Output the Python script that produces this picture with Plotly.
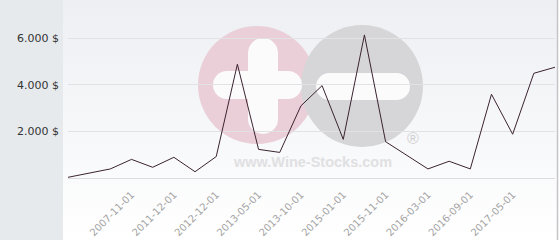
import base64
import plotly.graph_objects as go

# ---- data ----
dates = ["2004-05-01", "2005-06-01", "2006-10-01", "2007-11-01", "2009-04-01",
         "2011-12-01", "2012-06-01", "2012-12-01", "2013-02-01", "2013-05-01",
         "2013-07-01", "2013-10-01", "2014-06-01", "2015-01-01", "2015-06-01",
         "2015-11-01", "2016-01-01", "2016-03-01", "2016-06-01", "2016-09-01",
         "2017-01-01", "2017-05-01", "2017-10-01", "2018-03-01"]
prices = [30, 200, 390, 800, 460, 890, 270, 920, 4890, 1230,
          1100, 3100, 3970, 1660, 6150, 1560, 990, 390, 720, 390,
          3600, 1880, 4500, 4760]
shown_dates = ["2007-11-01", "2011-12-01", "2012-12-01", "2013-05-01", "2013-10-01",
               "2015-01-01", "2015-11-01", "2016-03-01", "2016-09-01", "2017-05-01"]
y_ticks = [2000, 4000, 6000]
y_labels = ["2.000 $", "4.000 $", "6.000 $"]

# ---- geometry helpers (pixel -> paper) ----
W, H = 560, 240
L, R, T, B = 68, 5, 0, 62
PW, PH = W - L - R, H - T - B


def px(x):
    return (x - L) / PW


def py(y):
    return 1 - (y - T) / PH


svg = ('<svg xmlns="http://www.w3.org/2000/svg" width="100" height="100" preserveAspectRatio="none">'
       '<defs><linearGradient id="g" x1="0" y1="0" x2="0" y2="1">'
       '<stop offset="0" stop-color="#edeff3"/><stop offset="1" stop-color="#ffffff"/>'
       '</linearGradient></defs><rect width="100" height="100" fill="url(#g)"/></svg>')
src = "data:image/svg+xml;base64," + base64.b64encode(svg.encode()).decode()

fig = go.Figure()
fig.add_trace(go.Scatter(x=dates, y=prices, mode="lines",
                         line=dict(color="#3b2330", width=1), hoverinfo="skip"))

shapes = []
# left panel
shapes.append(dict(type="rect", xref="paper", yref="paper", x0=px(0), x1=px(63),
                   y0=py(240), y1=py(0), fillcolor="#e6eaed", line_width=0, layer="below"))
# right border
shapes.append(dict(type="line", xref="paper", yref="paper", x0=px(557.5), x1=px(557.5),
                   y0=py(240), y1=py(0), line=dict(color="#c4c4c8", width=1.5), layer="below"))


def circle(cx, cy, r, color):
    return dict(type="circle", xref="paper", yref="paper", x0=px(cx - r), x1=px(cx + r),
                y0=py(cy + r), y1=py(cy - r), fillcolor=color, line_width=0, layer="below")


def pill(x0, y0, x1, y1, color):
    out = []
    if (x1 - x0) >= (y1 - y0):
        rr = (y1 - y0) / 2
        out.append(dict(type="rect", xref="paper", yref="paper", x0=px(x0 + rr), x1=px(x1 - rr),
                        y0=py(y1), y1=py(y0), fillcolor=color, line_width=0, layer="below"))
        out.append(circle(x0 + rr, y0 + rr, rr, color))
        out.append(circle(x1 - rr, y0 + rr, rr, color))
    else:
        rr = (x1 - x0) / 2
        out.append(dict(type="rect", xref="paper", yref="paper", x0=px(x0), x1=px(x1),
                        y0=py(y1 - rr), y1=py(y0 + rr), fillcolor=color, line_width=0, layer="below"))
        out.append(circle(x0 + rr, y0 + rr, rr, color))
        out.append(circle(x0 + rr, y1 - rr, rr, color))
    return out


shapes.append(circle(257, 85, 59, "#eacfd8"))
shapes.append(circle(362, 86, 61, "#d6d6d9"))
shapes += pill(213, 71, 302, 99, "#fbfbfc")
shapes += pill(248, 38, 278, 134, "#fbfbfc")
shapes += pill(316, 73, 410, 100, "#fbfbfc")

fig.update_layout(
    width=W, height=H,
    margin=dict(l=L, r=R, t=T, b=B),
    paper_bgcolor="#ffffff",
    plot_bgcolor="rgba(0,0,0,0)",
    showlegend=False,
    font=dict(family="DejaVu Sans"),
    shapes=shapes,
    images=[dict(source=src, xref="paper", yref="paper", x=px(63), y=py(0),
                 sizex=px(557) - px(63), sizey=py(0) - py(240), sizing="stretch",
                 xanchor="left", yanchor="top", layer="below")],
    annotations=[
        dict(text="<b>www.Wine-Stocks.com</b>", xref="paper", yref="paper", x=px(312), y=py(162),
             showarrow=False, font=dict(family="Liberation Sans", size=14.5, color="#e0e0e2"),
             xanchor="center", yanchor="middle"),
        dict(text="®", xref="paper", yref="paper", x=px(413), y=py(138),
             showarrow=False, font=dict(family="Liberation Sans", size=16, color="#d0d0d3"),
             xanchor="center", yanchor="middle"),
    ],
    xaxis=dict(type="category", range=[0, len(dates) - 1], tickmode="array",
               tickvals=shown_dates, ticktext=shown_dates, tickangle=-45,
               tickfont=dict(size=10, color="#a4a4a4"), showgrid=False, zeroline=False,
               showline=True, linecolor="#dcdcdc", linewidth=1, ticks="",
               ticklabelstandoff=6),
    yaxis=dict(range=[0, 7650], tickmode="array", tickvals=y_ticks, ticktext=y_labels,
               tickfont=dict(size=11, color="#333333"), showgrid=True, gridcolor="#e2e2e4",
               gridwidth=1, zeroline=False, showline=False, ticks="", ticklabelstandoff=8),
)

fig.write_html("out.html")
